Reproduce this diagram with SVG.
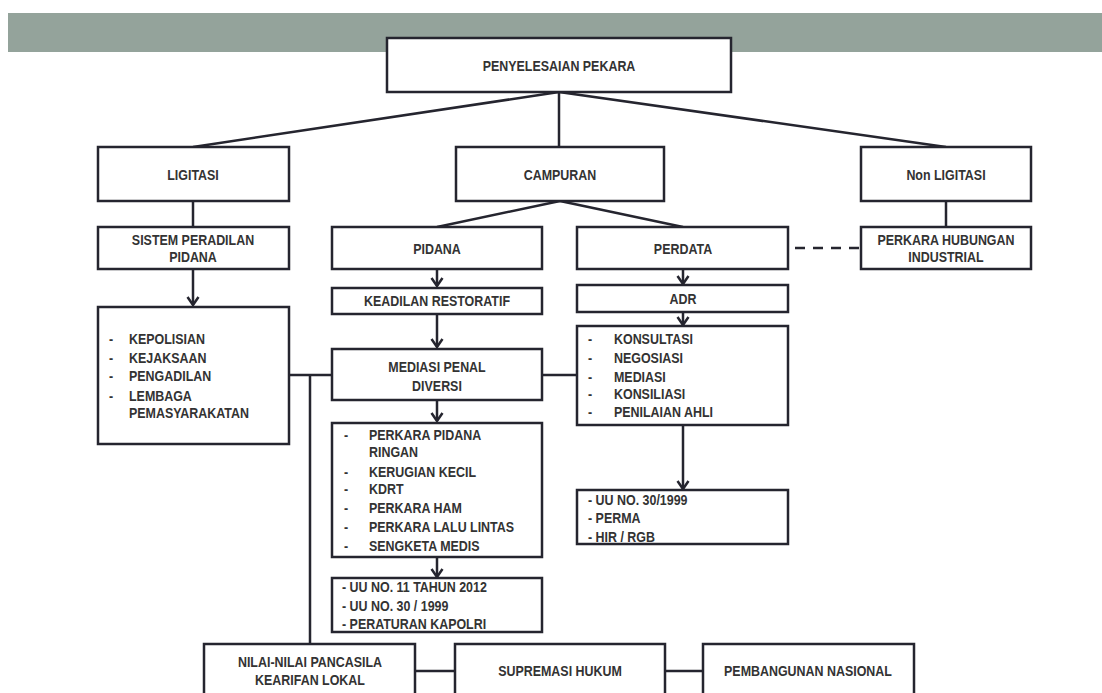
<svg xmlns="http://www.w3.org/2000/svg" width="1102" height="693" viewBox="0 0 1102 693">
  <style>
    .box { fill: #ffffff; stroke: #25252f; stroke-width: 2.5; }
    .ln { fill: none; stroke: #25252f; stroke-width: 2.5; }
    .dash { fill: none; stroke: #25252f; stroke-width: 2.5; stroke-dasharray: 10 8; }
    /* condensed bold face: horizontal squeeze of Liberation Sans Bold */
    text { font-family: "Liberation Sans", Arial, sans-serif; font-weight: bold; font-size: 15px; fill: #333333;
           transform-box: fill-box; transform-origin: 0% 50%; transform: scaleX(0.83); }
    text.c { text-anchor: middle; transform-origin: 50% 50%; }
  </style>
  <defs>
    <marker id="arr" markerUnits="userSpaceOnUse" markerWidth="12" markerHeight="14" viewBox="0 0 12 14" refX="10" refY="7" orient="auto">
      <path d="M2,1.5 L10,7 L2,12.5" fill="none" stroke="#25252f" stroke-width="2.5"/>
    </marker>
  </defs>

  <!-- header band -->
  <rect x="8" y="13" width="1094" height="39" fill="#94a39b"/>

  <g id="connectors">
    <line class="ln" x1="559" y1="92" x2="193" y2="147"/>
    <line class="ln" x1="559" y1="92" x2="559" y2="147"/>
    <line class="ln" x1="559" y1="92" x2="946" y2="147"/>
    <line class="ln" x1="193" y1="201" x2="193" y2="227"/>
    <line class="ln" x1="193" y1="269" x2="193" y2="305" marker-end="url(#arr)"/>
    <line class="ln" x1="560" y1="201" x2="437" y2="227"/>
    <line class="ln" x1="560" y1="201" x2="683" y2="227"/>
    <line class="ln" x1="437" y1="269" x2="437" y2="286" marker-end="url(#arr)"/>
    <line class="ln" x1="437" y1="314" x2="437" y2="347" marker-end="url(#arr)"/>
    <line class="ln" x1="437" y1="400" x2="437" y2="421" marker-end="url(#arr)"/>
    <line class="ln" x1="437" y1="557" x2="437" y2="577" marker-end="url(#arr)"/>
    <line class="ln" x1="683" y1="269" x2="683" y2="284" marker-end="url(#arr)"/>
    <line class="ln" x1="683" y1="312" x2="683" y2="325" marker-end="url(#arr)"/>
    <line class="ln" x1="683" y1="425" x2="683" y2="489" marker-end="url(#arr)"/>
    <line class="ln" x1="946" y1="201" x2="946" y2="227"/>
    <line class="dash" x1="795" y1="248" x2="861" y2="248"/>
    <line class="ln" x1="289" y1="375" x2="332" y2="375"/>
    <line class="ln" x1="542" y1="375" x2="577" y2="375"/>
    <line class="ln" x1="310" y1="375" x2="310" y2="644"/>
    <line class="ln" x1="415" y1="671" x2="455" y2="671"/>
    <line class="ln" x1="665" y1="671" x2="703" y2="671"/>
  </g>

  <g id="penyelesaian">
    <rect class="box" x="387" y="38" width="344" height="54"/>
    <text class="c" x="559" y="71">PENYELESAIAN PEKARA</text>
  </g>

  <g id="ligitasi">
    <rect class="box" x="98" y="147" width="191" height="54"/>
    <text class="c" x="193" y="180">LIGITASI</text>
  </g>

  <g id="campuran">
    <rect class="box" x="456" y="147" width="208" height="54"/>
    <text class="c" x="560" y="180">CAMPURAN</text>
  </g>

  <g id="non-ligitasi">
    <rect class="box" x="861" y="147" width="170" height="54"/>
    <text class="c" x="946" y="180">Non LIGITASI</text>
  </g>

  <g id="sppidana">
    <rect class="box" x="98" y="227" width="191" height="42"/>
    <text class="c" x="193" y="245">SISTEM PERADILAN</text>
    <text class="c" x="193" y="262.5">PIDANA</text>
  </g>

  <g id="lembaga">
    <rect class="box" x="98" y="307" width="191" height="137"/>
    <text x="109" y="344">-</text><text x="129" y="344">KEPOLISIAN</text>
    <text x="109" y="363">-</text><text x="129" y="363">KEJAKSAAN</text>
    <text x="109" y="381">-</text><text x="129" y="381">PENGADILAN</text>
    <text x="109" y="401">-</text><text x="129" y="401">LEMBAGA</text>
    <text x="129" y="418">PEMASYARAKATAN</text>
  </g>

  <g id="pidana">
    <rect class="box" x="332" y="227" width="210" height="42"/>
    <text class="c" x="437" y="254">PIDANA</text>
  </g>

  <g id="keadilan">
    <rect class="box" x="332" y="288" width="210" height="26"/>
    <text class="c" x="437" y="306">KEADILAN RESTORATIF</text>
  </g>

  <g id="mediasi-penal">
    <rect class="box" x="332" y="349" width="210" height="51"/>
    <text class="c" x="437" y="372">MEDIASI PENAL</text>
    <text class="c" x="437" y="391">DIVERSI</text>
  </g>

  <g id="perkara-pidana">
    <rect class="box" x="332" y="423" width="210" height="134"/>
    <text x="344" y="440">-</text><text x="369" y="440">PERKARA PIDANA</text>
    <text x="369" y="457">RINGAN</text>
    <text x="344" y="477">-</text><text x="369" y="477">KERUGIAN KECIL</text>
    <text x="344" y="494">-</text><text x="369" y="494">KDRT</text>
    <text x="344" y="513">-</text><text x="369" y="513">PERKARA HAM</text>
    <text x="344" y="532">-</text><text x="369" y="532">PERKARA LALU LINTAS</text>
    <text x="344" y="551">-</text><text x="369" y="551">SENGKETA MEDIS</text>
  </g>

  <g id="uu-pidana">
    <rect class="box" x="332" y="578" width="210" height="54"/>
    <text x="342" y="592">- UU NO. 11 TAHUN 2012</text>
    <text x="342" y="611">- UU NO. 30 / 1999</text>
    <text x="342" y="629.5">- PERATURAN KAPOLRI</text>
  </g>

  <g id="perdata">
    <rect class="box" x="577" y="227" width="211" height="42"/>
    <text class="c" x="683" y="254">PERDATA</text>
  </g>

  <g id="adr">
    <rect class="box" x="577" y="285" width="211" height="27"/>
    <text class="c" x="683" y="304.5">ADR</text>
  </g>

  <g id="adr-list">
    <rect class="box" x="577" y="326" width="211" height="99"/>
    <text x="588" y="344">-</text><text x="614" y="344">KONSULTASI</text>
    <text x="588" y="363">-</text><text x="614" y="363">NEGOSIASI</text>
    <text x="588" y="382">-</text><text x="614" y="382">MEDIASI</text>
    <text x="588" y="399">-</text><text x="614" y="399">KONSILIASI</text>
    <text x="588" y="417">-</text><text x="614" y="417">PENILAIAN AHLI</text>
  </g>

  <g id="uu-perdata">
    <rect class="box" x="577" y="490" width="211" height="54"/>
    <text x="588" y="505">- UU NO. 30/1999</text>
    <text x="588" y="523">- PERMA</text>
    <text x="588" y="542">- HIR / RGB</text>
  </g>

  <g id="hubungan-industrial">
    <rect class="box" x="861" y="227" width="170" height="42"/>
    <text class="c" x="946" y="245">PERKARA HUBUNGAN</text>
    <text class="c" x="946" y="262.5">INDUSTRIAL</text>
  </g>

  <g id="pancasila">
    <rect class="box" x="204" y="644" width="211" height="60"/>
    <text class="c" x="310" y="667">NILAI-NILAI PANCASILA</text>
    <text class="c" x="310" y="685">KEARIFAN LOKAL</text>
  </g>

  <g id="supremasi">
    <rect class="box" x="455" y="644" width="210" height="60"/>
    <text class="c" x="560" y="676">SUPREMASI HUKUM</text>
  </g>

  <g id="pembangunan">
    <rect class="box" x="703" y="644" width="211" height="60"/>
    <text class="c" x="808" y="676">PEMBANGUNAN NASIONAL</text>
  </g>
</svg>
